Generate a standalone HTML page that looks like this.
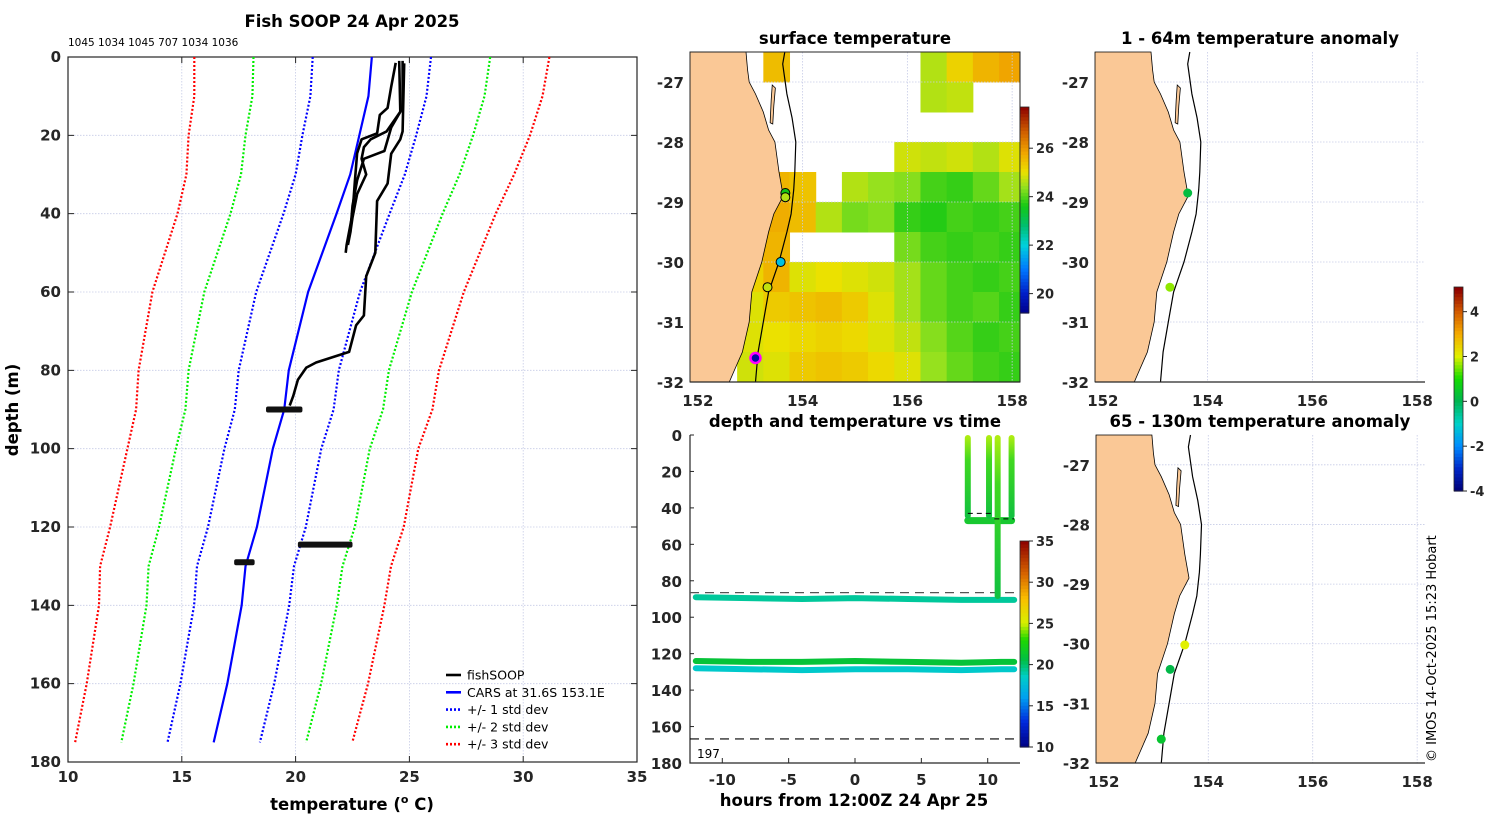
<!DOCTYPE html>
<html><head><meta charset="utf-8"><style>
html,body{margin:0;padding:0;background:#fff;}
svg{display:block;font-family:"Liberation Sans","DejaVu Sans",sans-serif;}
.tk{font-family:"DejaVu Sans","Liberation Sans",sans-serif;font-weight:bold;font-size:15px;fill:#262626;}
.tt{font-family:"DejaVu Sans","Liberation Sans",sans-serif;font-weight:bold;font-size:16.5px;fill:#000;}
.lg{font-family:"DejaVu Sans","Liberation Sans",sans-serif;font-size:12.5px;fill:#000;}
</style></head><body>
<svg id="fig" width="1500" height="820" viewBox="0 0 1500 820" xmlns="http://www.w3.org/2000/svg">
<text class="tt" x="352" y="27" text-anchor="middle">Fish SOOP 24 Apr 2025</text>
<text x="68" y="46" font-size="10.5" font-family="DejaVu Sans,sans-serif">1045 1034 1045 707 1034 1036</text>
<text class="tt" x="18" y="410" text-anchor="middle" transform="rotate(-90 18 410)">depth (m)</text>
<text class="tt" x="352" y="810" text-anchor="middle">temperature (<tspan dy="-7" font-size="11">o</tspan><tspan dy="7"> C)</tspan></text>
<text class="tt" x="855" y="44" text-anchor="middle">surface temperature</text>
<text class="tt" x="855" y="427" text-anchor="middle">depth and temperature vs time</text>
<text class="tt" x="854" y="806" text-anchor="middle">hours from 12:00Z 24 Apr 25</text>
<text class="tt" x="1260" y="44" text-anchor="middle">1 - 64m temperature anomaly</text>
<text class="tt" x="1260" y="427" text-anchor="middle">65 - 130m temperature anomaly</text>
<text x="1436" y="762" font-size="13" font-family="DejaVu Sans,sans-serif" transform="rotate(-90 1436 762)">© IMOS 14-Oct-2025 15:23 Hobart</text>
<g id="L"></g><g id="M"></g><g id="T"></g><g id="A1"></g><g id="A2"></g>
</svg>
<script>
// ---------- data ----------
const carsDepth = [0,10,20,30,40,60,80,90,100,120,130,140,160,175];
const carsTemp  = [23.35,23.2,22.8,22.4,21.8,20.55,19.7,19.5,19.0,18.3,17.8,17.63,17.0,16.4];
const carsStd   = [2.6,2.55,2.5,2.4,2.33,2.28,2.2,2.17,2.13,2.15,2.13,2.09,2.06,2.03];
const profA_T = [24.4,24.2,24.04,23.7,23.58,22.9,22.7,22.6,22.5,22.24,22.2];
const profA_D = [1.5,7.6,13,14.8,19.5,21,24.6,32,40,48,50];
const profB_T = [24.77,24.7,24.6,24.2,24.04,23.58,23.5,23.1,23.0,22.66,22.35,20.9,20.47,20.1,19.9,19.74];
const profB_D = [1.6,19,21,24.7,32.3,36.8,50,56,66,68.5,75.3,78,79.3,82.4,86.5,89];
const profC_T = [24.55,24.6,24.0,23.3,23.0,22.9,23.1,22.7,22.5,22.4,22.3];
const profC_D = [1,14,19,21,23,26,30,35,41,45,48];
const profD_T = [24.7,24.7,24.2,23.9,23.0,22.7,22.5,22.4];
const profD_D = [1,13,18,24,26,31.5,38,45];
const blobDepth = [90, 124.5, 129];
const blobTmin  = [18.7, 20.1, 17.3];
const blobTmax  = [20.3, 22.5, 18.2];

const sstLon = [152,152.5,153,153.5,154,154.5,155,155.5,156,156.5,157,157.5,158];
const sstLat = [-26.75,-27.25,-27.75,-28.25,-28.75,-29.25,-29.75,-30.25,-30.75,-31.25,-31.75];
const N = null;
const sstVal = [
[N,N,N,25.5,N,N,N,N,N,24.6,25.2,25.6,25.8],
[N,N,N,N,N,N,N,N,N,24.6,24.7,N,N],
[N,N,N,N,N,N,N,N,N,N,N,N,N],
[N,N,N,N,N,N,N,N,24.8,24.7,24.8,24.6,24.9],
[N,N,N,25.6,25.4,N,24.6,24.4,24.3,23.9,23.8,24.1,24.5],
[N,N,N,25.7,25.5,24.6,24.2,24.3,23.8,23.7,23.9,23.8,23.9],
[N,N,25.4,25.6,N,N,N,N,24.2,23.9,23.8,23.9,23.8],
[N,N,25.2,25.6,24.9,25.0,24.9,24.8,24.5,24.1,23.9,23.8,23.9],
[N,N,24.9,25.3,25.4,25.5,25.3,24.9,24.5,24.1,23.9,24.0,23.8],
[N,N,24.9,25.0,25.1,25.2,25.1,24.9,24.7,24.3,24.0,23.8,23.9],
[N,N,24.8,24.9,25.3,25.4,25.3,25.1,24.9,24.4,24.1,23.9,23.8]];
const sstPtLon = [153.67,153.67,153.58,153.33,153.1];
const sstPtLat = [-28.85,-28.92,-30.0,-30.42,-31.6];
const sstPtVal = [23.6,24.6,21.8,24.7,19.5];
const coastLat = [-26.5,-26.8,-27.0,-27.2,-27.5,-27.8,-28.0,-28.5,-28.9,-29.2,-29.5,-30.0,-30.5,-31.0,-31.5,-31.8,-32.0];
const coastLon = [152.92,152.95,152.98,153.1,153.25,153.35,153.47,153.55,153.63,153.45,153.35,153.22,153.03,152.98,152.85,152.7,152.6];
const shelfLat = [-26.5,-26.7,-27.2,-27.6,-28.0,-28.5,-28.8,-29.2,-29.5,-30.0,-30.5,-31.0,-31.5,-32.0];
const shelfLon = [153.66,153.62,153.7,153.8,153.87,153.85,153.83,153.78,153.7,153.55,153.35,153.25,153.15,153.1];

const lineHours = [-12,-8,-4,0,4,8,11,12];
const line90Depth = [89,89.5,90,89.5,90,90.5,90.5,90.5];
const line124Depth = [124,124.5,124.5,124,124.5,125,124.5,124.5];
const line128Depth = [128,128.5,129,128.5,128.5,129,128.5,128.5];
const lineTemps = [19.2,21.0,18.3];
const spikeHours = [8.5,10.1,10.75,11.8];
const spikeBottom = [46,46,90,46];

const a1Lon = [153.62,153.28];
const a1Lat = [-28.85,-30.42];
const a1Val = [0.2,1.6];
const a2Lon = [153.55,153.27,153.1];
const a2Lat = [-30.02,-30.43,-31.6];
const a2Val = [2.0,0.1,0.4];

// ---------- helpers ----------
const NS='http://www.w3.org/2000/svg';
function mk(tag, attrs, parent){const e=document.createElementNS(NS,tag);for(const k in attrs)e.setAttribute(k,attrs[k]);parent.appendChild(e);return e;}
function lerpC(stops, v){
  if(v<=stops[0][0])return stops[0][1];
  for(let i=1;i<stops.length;i++){if(v<=stops[i][0]){const t=(v-stops[i-1][0])/(stops[i][0]-stops[i-1][0]);const a=stops[i-1][1],b=stops[i][1];return 'rgb('+[0,1,2].map(j=>Math.round(a[j]+(b[j]-a[j])*t)).join(',')+')';}}
  const l=stops[stops.length-1][1];return 'rgb('+l.join(',')+')';}
const sstStops=[[19.2,[0,0,140]],[20,[0,30,200]],[21,[0,120,255]],[22,[0,210,220]],[22.8,[0,190,110]],[23.6,[20,200,20]],[24.4,[150,225,30]],[25,[235,225,0]],[25.8,[240,165,0]],[26.6,[210,100,0]],[27.7,[140,0,0]]];
const jetStops=[[10,[0,0,130]],[13,[0,40,220]],[16,[0,160,240]],[18.5,[0,205,200]],[20.5,[0,190,70]],[23,[30,215,0]],[25,[215,240,0]],[28,[250,190,0]],[31,[215,100,0]],[35,[140,0,0]]];
const anomStops=[[-4,[0,0,120]],[-3,[0,40,200]],[-2,[0,140,255]],[-1,[0,210,200]],[0,[0,180,80]],[1,[20,220,0]],[2,[225,240,0]],[3,[245,170,0]],[4,[210,90,0]],[5,[140,0,0]]];

// ---------- profile panel ----------
const L=document.getElementById('L');
const PX0=68,PX1=637,PY0=57,PY1=762;
const xT=t=>PX0+(t-10)/25*(PX1-PX0);
const yD=d=>PY0+d/180*(PY1-PY0);
const gridCol='#c6cbe6';
[15,20,25,30].forEach(t=>{
  const g=mk('line',{x1:xT(t),x2:xT(t),y1:PY0,y2:PY1,stroke:gridCol,'stroke-width':0.8,'stroke-dasharray':'1.5 1.5'},L);
  
  
});
[20,40,60,80,100,120,140,160].forEach(d=>{
  const g=mk('line',{x1:PX0,x2:PX1,y1:yD(d),y2:yD(d),stroke:gridCol,'stroke-width':0.8,'stroke-dasharray':'1.5 1.5'},L);
  
  
});
const box=mk('rect',{x:PX0,y:PY0,width:PX1-PX0,height:PY1-PY0,fill:'none',stroke:'#262626','stroke-width':1.2},L);


[10,15,20,25,30,35].forEach(t=>{
  const s=mk('text',{x:xT(t),y:PY1+20,'text-anchor':'middle',class:'tk'},L);s.textContent=t;
  
  
  const k=mk('path',{d:`M${xT(t)} ${PY0}v6M${xT(t)} ${PY1}v-6`,stroke:'#262626','stroke-width':1},L);
  
  
});
[0,20,40,60,80,100,120,140,160,180].forEach(d=>{
  const s=mk('text',{x:PX0-7,y:yD(d)+5,'text-anchor':'end',class:'tk'},L);s.textContent=d;
  
  
  const k=mk('path',{d:`M${PX0} ${yD(d)}h6M${PX1} ${yD(d)}h-6`,stroke:'#262626','stroke-width':1},L);
  
  
});
const sdCols=['#0000ff','#00ee00','#ff0000'];
[1,2,3].forEach(k=>{[-1,1].forEach(sg=>{
  const pts=carsDepth.map((d,i)=>xT(carsTemp[i]+sg*k*carsStd[i]).toFixed(1)+','+yD(d).toFixed(1)).join(' ');
  const p=mk('polyline',{points:pts,fill:'none',stroke:sdCols[k-1],'stroke-width':2.2,'stroke-dasharray':'2 2'},L);
  
  
});});
const cp=mk('polyline',{points:carsDepth.map((d,i)=>xT(carsTemp[i])+','+yD(d)).join(' '),fill:'none',stroke:'#0000ff','stroke-width':2.2},L);


[[profA_T,profA_D],[profB_T,profB_D],[profC_T,profC_D],[profD_T,profD_D]].forEach(pr=>{
  const p=mk('polyline',{points:pr[0].map((t,i)=>xT(t).toFixed(1)+','+yD(pr[1][i]).toFixed(1)).join(' '),fill:'none',stroke:'#000','stroke-width':2.6,'stroke-linejoin':'round'},L);
  
  
});
blobDepth.forEach((d,i)=>{
  const b=mk('rect',{x:xT(blobTmin[i]),y:yD(d)-3,width:xT(blobTmax[i])-xT(blobTmin[i]),height:6,fill:'#111',rx:2},L);
  
  
});
const legItems=[['fishSOOP','#000',''],['CARS at 31.6S 153.1E','#0000ff',''],['+/- 1 std dev','#0000ff','2 2'],['+/- 2 std dev','#00ee00','2 2'],['+/- 3 std dev','#ff0000','2 2']];
legItems.forEach((it,i)=>{
  const y=675+i*17.3;
  const l=mk('line',{x1:446,x2:461,y1:y,y2:y,stroke:it[1],'stroke-width':2.6,'stroke-dasharray':it[2]||'none'},L);
  
  
  const t=mk('text',{x:467,y:y+4.5,class:'lg'},L);t.textContent=it[0];
  
  
});

// ---------- maps ----------
function drawMap(G, x0,x1,y0,y1, name, withBox){
  const mx=lon=>x0+(lon-151.85)/6.3*(x1-x0);
  const my=lat=>y0+(-26.5-lat)/5.5*(y1-y0);
  return {mx,my};
}
function mapFrame(G,mx,my,x0,x1,y0,y1,boxAll){
  [154,156,158].forEach(lo=>{
    const g=mk('line',{x1:mx(lo),x2:mx(lo),y1:y0,y2:y1,stroke:gridCol,'stroke-width':0.8,'stroke-dasharray':'1.5 1.5'},G);
    
    
  });
  [-27,-28,-29,-30,-31].forEach(la=>{
    const g=mk('line',{x1:x0,x2:x1,y1:my(la),y2:my(la),stroke:gridCol,'stroke-width':0.8,'stroke-dasharray':'1.5 1.5'},G);
    
    
  });
}
function mapLand(G,mx,my,x0,y0,y1){
  let d=`M${x0} ${y0}`;
  coastLat.forEach((la,i)=>{d+=`L${mx(coastLon[i]).toFixed(1)} ${my(la).toFixed(1)}`;});
  d+=`L${x0} ${y1}Z`;
  const land=mk('path',{d:d,fill:'#fac896',stroke:'#000','stroke-width':0.8},G);
  
  
  const isl=mk('path',{d:`M${mx(153.42)} ${my(-27.05)}L${mx(153.48)} ${my(-27.1)}L${mx(153.45)} ${my(-27.4)}L${mx(153.43)} ${my(-27.7)}L${mx(153.38)} ${my(-27.68)}L${mx(153.4)} ${my(-27.3)}Z`,fill:'#fac896',stroke:'#000','stroke-width':0.8},G);
  
  
  const sh=mk('polyline',{points:shelfLat.map((la,i)=>mx(shelfLon[i]).toFixed(1)+','+my(la).toFixed(1)).join(' '),fill:'none',stroke:'#000','stroke-width':1.2},G);
  
  
}
function mapTicks(G,mx,my,x0,y1){
  [152,154,156,158].forEach(lo=>{
    const t=mk('text',{x:mx(lo),y:y1+24,'text-anchor':'middle',class:'tk'},G);t.textContent=lo;
    
    
  });
  [-27,-28,-29,-30,-31,-32].forEach(la=>{
    const t=mk('text',{x:x0-6,y:my(la)+6,'text-anchor':'end',class:'tk'},G);t.textContent=la;
    
    
  });
  const ax=mk('line',{x1:x0,x2:mx(158.15),y1:y1,y2:y1,stroke:'#262626','stroke-width':1.2},G);
  
  
}
function colorbar(G,x,y0,y1,vmin,vmax,stops,ticks,name){
  const n=60,h=(y1-y0)/n;
  for(let i=0;i<n;i++){
    const v=vmax-(i+0.5)/n*(vmax-vmin);
    const r=mk('rect',{x:x,y:y0+i*h,width:9,height:h+0.6,fill:lerpC(stops,v)},G);
    
    
  }
  const bx=mk('rect',{x:x,y:y0,width:9,height:y1-y0,fill:'none',stroke:'#262626','stroke-width':0.8},G);
  
  
  ticks.forEach(v=>{
    const yy=y1-(v-vmin)/(vmax-vmin)*(y1-y0);
    const k=mk('line',{x1:x+9,x2:x+13,y1:yy,y2:yy,stroke:'#262626'},G);
    
    
    const t=mk('text',{x:x+16,y:yy+5,class:'tk','font-size':'13'},G);t.textContent=v;t.style.fontSize='13px';
    
    
  });
}

// SST map
const M=document.getElementById('M');
const m1=drawMap(M,690,1020,52,382);
const cl=mk('clipPath',{id:'clipM'},M);mk('rect',{x:690,y:52,width:330,height:330},cl);
const cells=mk('g',{'clip-path':'url(#clipM)'},M);


sstLat.forEach((la,r)=>{sstLon.forEach((lo,c)=>{
  const v=sstVal[r][c]; if(v===null)return;
  const x=m1.mx(lo-0.25),y=m1.my(la+0.25);
  const cell=mk('rect',{x:x,y:y,width:m1.mx(lo+0.25)-x+0.5,height:m1.my(la-0.25)-y+0.5,fill:lerpC(sstStops,v)},cells);
  
  
});});
mapFrame(M,m1.mx,m1.my,690,1020,52,382);
mapLand(M,m1.mx,m1.my,690,52,382);
mapTicks(M,m1.mx,m1.my,690,382);
const mb=mk('rect',{x:690,y:52,width:330,height:330,fill:'none',stroke:'#262626','stroke-width':1},M);


sstPtLon.forEach((lo,i)=>{
  const last=i===sstPtLon.length-1;
  const c=mk('circle',{cx:m1.mx(lo),cy:m1.my(sstPtLat[i]),r:last?5:4.5,fill:lerpC(sstStops,sstPtVal[i]),stroke:last?'#ff00ff':'#000','stroke-width':last?2.5:1},M);
  
  
});
colorbar(M,1020,107,313,19.2,27.7,sstStops,[20,22,24,26],'sst-colorbar');

// depth-time panel
const T=document.getElementById('T');
const TX0=690,TX1=1020,TY0=435,TY1=763;
const xh=h=>722.3+(h+10)*13.27;
const yd=d=>TY0+d/180*(TY1-TY0);
const tb=mk('path',{d:`M${TX0} ${TY0}V${TY1}H${TX1}`,fill:'none',stroke:'#262626','stroke-width':1.2},T);


[-10,-5,0,5,10].forEach(h=>{
  const t=mk('text',{x:xh(h),y:TY1+22,'text-anchor':'middle',class:'tk'},T);t.textContent=h;
  
  
  const k=mk('line',{x1:xh(h),x2:xh(h),y1:TY1,y2:TY1-5,stroke:'#262626'},T);
  
  
});
[0,20,40,60,80,100,120,140,160,180].forEach(d=>{
  const t=mk('text',{x:TX0-8,y:yd(d)+6,'text-anchor':'end',class:'tk'},T);t.textContent=d;
  
  
  const k=mk('line',{x1:TX0,x2:TX0+4,y1:yd(d),y2:yd(d),stroke:'#262626'},T);
  
  
});
const dl1=mk('line',{x1:TX0,x2:TX1,y1:yd(86.5),y2:yd(86.5),stroke:'#555','stroke-width':1.3,'stroke-dasharray':'9 6'},T);


const dl2=mk('line',{x1:TX0,x2:TX1,y1:yd(166.8),y2:yd(166.8),stroke:'#000','stroke-width':1.2,'stroke-dasharray':'9 6'},T);


const t197=mk('text',{x:697,y:758,'font-size':'12','font-family':'DejaVu Sans,sans-serif'},T);t197.textContent='197';


[line90Depth,line124Depth,line128Depth].forEach((arr,i)=>{
  const p=mk('polyline',{points:lineHours.map((h,j)=>xh(h).toFixed(1)+','+yd(arr[j]).toFixed(1)).join(' '),fill:'none',stroke:lerpC(jetStops,lineTemps[i]),'stroke-width':6,'stroke-linecap':'round'},T);
  
  
});
const gr=mk('linearGradient',{id:'spk',x1:0,y1:0,x2:0,y2:1},T);
mk('stop',{offset:'0','stop-color':'#b4ee10'},gr);mk('stop',{offset:'0.3','stop-color':'#40d820'},gr);mk('stop',{offset:'1','stop-color':'#10c040'},gr);
const ub=mk('line',{x1:xh(spikeHours[0]),x2:xh(spikeHours[3]),y1:yd(47),y2:yd(47),stroke:'#18c830','stroke-width':7,'stroke-linecap':'round'},T);


spikeHours.forEach((h,i)=>{
  const s=mk('rect',{x:xh(h)-3,y:yd(0),width:6,height:yd(spikeBottom[i])-yd(0),fill:'url(#spk)',rx:3},T);
  
  
});
const sd1=mk('line',{x1:xh(8.5),x2:xh(10.5),y1:yd(43),y2:yd(43),stroke:'#000','stroke-width':1,'stroke-dasharray':'5 4'},T);


const sd2=mk('line',{x1:xh(10.5),x2:xh(12),y1:yd(46),y2:yd(46),stroke:'#000','stroke-width':1,'stroke-dasharray':'5 4'},T);


colorbar(T,1020,541,747,10,35,jetStops,[10,15,20,25,30,35],'time-colorbar');

// anomaly maps
function anomMap(G,x0,x1,y0,y1,lons,lats,vals,nm){
  const m=drawMap(G,x0,x1,y0,y1);
  mapFrame(G,m.mx,m.my,x0,x1,y0,y1);
  mapLand(G,m.mx,m.my,x0,y0,y1);
  mapTicks(G,m.mx,m.my,x0,y1);
  lons.forEach((lo,i)=>{
    const c=mk('circle',{cx:m.mx(lo),cy:m.my(lats[i]),r:4.5,fill:lerpC(anomStops,vals[i])},G);
    
    
  });
}
anomMap(document.getElementById('A1'),1095,1425,52,382,a1Lon,a1Lat,a1Val,'shallow-anomaly');
anomMap(document.getElementById('A2'),1096,1425,435,763,a2Lon,a2Lat,a2Val,'deep-anomaly');
colorbar(document.getElementById('A1'),1454,287,491,-4,5.1,anomStops,[-4,-2,0,2,4],'anomaly-colorbar');
</script>
</body></html>
